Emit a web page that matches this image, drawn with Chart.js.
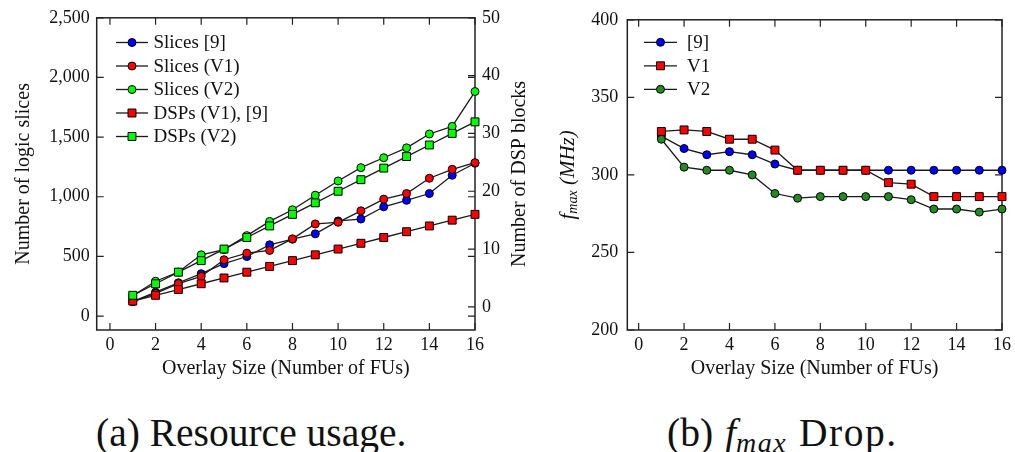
<!DOCTYPE html>
<html><head><meta charset="utf-8">
<script src="https://cdn.jsdelivr.net/npm/chart.js@4.4.1/dist/chart.umd.min.js"></script>
<style>
html,body{margin:0;padding:0;background:#fff;width:1015px;height:452px;overflow:hidden;font-family:'Liberation Serif';}
#c1{position:absolute;left:0;top:0;}
#c2{position:absolute;left:550px;top:0;}
.cap{position:absolute;top:414px;font-family:'Liberation Serif';font-size:39.5px;line-height:38px;color:#111;white-space:nowrap;}
.sub{font-size:28px;font-style:italic;position:relative;top:6px;letter-spacing:1.5px;}
.f{font-style:italic;margin-left:2px;}
.drop{margin-left:12px;letter-spacing:1.5px;}
</style></head><body>
<canvas id="c1" width="545" height="381"></canvas>
<canvas id="c2" width="465" height="381"></canvas>
<div class="cap" style="left:96px">(a) Resource usage.</div>
<div class="cap" style="left:667px">(b) <span class="f">f</span><span class="sub">max</span><span class="drop">Drop.</span></div>
<script>
// ---- data ----
const fus = [1,2,3,4,5,6,7,8,9,10,11,12,13,14,15,16];
const xTicks = [0,2,4,6,8,10,12,14,16];
const slicesRef = [121,200,279,355,439,499,597,644,689,797,813,916,970,1027,1180,1281];
const slicesV1  = [121,190,272,333,472,527,550,647,772,786,882,980,1027,1155,1230,1286];
const slicesV2  = [170,292,369,513,557,674,793,891,1013,1132,1244,1327,1410,1526,1590,1882];
const dspV1 = [1,2,3,4,5,6,7,8,9,10,11,12,13,14,15,16];
const dspV2 = [2,4,6,8,10,12,14,16,18,20,22,24,26,28,30,32];
const slicesTicks = [0,500,1000,1500,2000,2500];
const dspTicks = [0,10,20,30,40,50];
const fmaxTicks = [200,250,300,350,400];
const fmaxRef = [325,317,313,315,313,307,303,303,303,303,303,303,303,303,303,303];
const fmaxV1  = [328,329,328,323,323,316,303,303,303,303,295,294,286,286,286,286];
const fmaxV2  = [323,305,303,303,300,288,285,286,286,286,286,284,278,278,276,278];

const FONT = "'Liberation Serif'";
const TXT = '#111';
const pts = arr => arr.map((v, i) => ({x: fus[i], y: v}));

function ds(label, arr, color, style, axis, i) {
  return {
    label, data: pts(arr), yAxisID: axis, order: -i,
    borderColor: '#1a1a1a', borderWidth: 1.3, tension: 0,
    pointStyle: style, pointRadius: style === 'rect' ? 5.6 : 4, pointHoverRadius: style === 'rect' ? 5.6 : 4,
    pointBackgroundColor: color, pointBorderColor: '#000', pointBorderWidth: 1,
    clip: false
  };
}

const framePlugin = {
  id: 'frame',
  beforeDatasetsDraw(chart) {
    const {ctx, chartArea: a, scales} = chart;
    const L = 7;
    ctx.save();
    ctx.strokeStyle = '#222'; ctx.lineWidth = 1.2;
    ctx.beginPath();
    const xs = scales.x;
    xs.ticks.forEach(t => { const p = xs.getPixelForValue(t.value);
      ctx.moveTo(p, a.bottom); ctx.lineTo(p, a.bottom - L);
      ctx.moveTo(p, a.top); ctx.lineTo(p, a.top + L); });
    const y = scales.y;
    y.ticks.forEach(t => { const p = y.getPixelForValue(t.value);
      ctx.moveTo(a.left, p); ctx.lineTo(a.left + L, p);
      ctx.moveTo(a.right, p); ctx.lineTo(a.right - L, p); });
    if (scales.y2) {
      scales.y2.ticks.forEach(t => { const p = scales.y2.getPixelForValue(t.value);
        ctx.moveTo(a.right, p); ctx.lineTo(a.right - L, p); });
    }
    ctx.stroke();
    ctx.lineWidth = 1.5;
    ctx.strokeRect(a.left, a.top, a.right - a.left, a.bottom - a.top);
    ctx.restore();
  }
};

const legendPlugin = {
  id: 'mylegend',
  afterDraw(chart, args, o) {
    const {ctx} = chart;
    ctx.save();
    chart.data.datasets.forEach((d, i) => {
      const y = o.y0 + i * o.dy;
      ctx.strokeStyle = '#1a1a1a'; ctx.lineWidth = 1.3;
      ctx.beginPath(); ctx.moveTo(o.x1, y); ctx.lineTo(o.x2, y); ctx.stroke();
      ctx.fillStyle = d.pointBackgroundColor; ctx.strokeStyle = '#000'; ctx.lineWidth = 1;
      Chart.helpers.drawPoint(ctx, {pointStyle: d.pointStyle, rotation: 0, radius: d.pointRadius, borderWidth: 1}, (o.x1 + o.x2) / 2, y);
      ctx.fillStyle = TXT; ctx.font = '19px ' + FONT; ctx.textBaseline = 'middle'; ctx.textAlign = 'left';
      ctx.fillText(d.label, o.tx, y + 1);
    });
    ctx.restore();
  }
};

const vTitlePlugin = {
  id: 'vtitles',
  afterDraw(chart, args, o) {
    const {ctx, chartArea: a} = chart;
    (o.items || []).forEach(item => {
      ctx.save();
      ctx.translate(item.x, (a.top + a.bottom) / 2);
      ctx.rotate(-Math.PI / 2);
      ctx.textBaseline = 'middle'; ctx.textAlign = 'left'; ctx.fillStyle = TXT;
      let total = 0;
      item.parts.forEach(p => { ctx.font = p.font; total += ctx.measureText(p.text).width; });
      let cx = -total / 2;
      item.parts.forEach(p => { ctx.font = p.font; ctx.fillText(p.text, cx, p.dy || 0); cx += ctx.measureText(p.text).width; });
      ctx.restore();
    });
  }
};

const tickFont = {family: FONT, size: 18};
function setTicks(vals) { return s => { s.ticks = vals.map(v => ({value: v})); }; }
const xScale = (min, h) => ({
  type: 'linear', min, max: 16,
  afterBuildTicks: setTicks(xTicks),
  afterFit: s => { s.height = h; },
  grid: {display: false, drawTicks: false}, border: {display: false},
  ticks: {font: tickFont, color: TXT, padding: 4, maxRotation: 0},
  title: {display: true, text: 'Overlay Size (Number of FUs)', font: {family: FONT, size: 20}, color: TXT, padding: {top: 0, bottom: 0}}
});

const H = 381;
function build() {
Chart.defaults.font.family = FONT;
new Chart(document.getElementById('c1'), {
  type: 'line',
  data: {datasets: [
    ds('Slices [9]', slicesRef, '#0000ff', 'circle', 'y', 0),
    ds('Slices (V1)', slicesV1, '#ff0000', 'circle', 'y', 1),
    ds('Slices (V2)', slicesV2, '#00ff00', 'circle', 'y', 2),
    ds('DSPs (V1), [9]', dspV1, '#ff0000', 'rect', 'y2', 3),
    ds('DSPs (V2)', dspV2, '#00ff00', 'rect', 'y2', 4)
  ]},
  options: {
    responsive: false, animation: false, devicePixelRatio: 1,
    layout: {padding: {top: 15.7, left: 0, right: 0, bottom: 0}},
    scales: {
      x: xScale(-0.58, H - 330),
      y: {type: 'linear', position: 'left', min: -117, max: 2500,
        afterBuildTicks: setTicks(slicesTicks), afterFit: s => { s.width = 96.7; },
        grid: {display: false, drawTicks: false}, border: {display: false},
        ticks: {font: tickFont, color: TXT, padding: 7, callback: v => v.toLocaleString('en-US')}},
      y2: {type: 'linear', position: 'right', min: -4, max: 50,
        afterBuildTicks: setTicks(dspTicks), afterFit: s => { s.width = 545 - 475; },
        grid: {display: false, drawTicks: false}, border: {display: false},
        ticks: {font: tickFont, color: TXT, padding: 7}}
    },
    plugins: {
      legend: {display: false}, tooltip: {enabled: false},
      mylegend: {x1: 116, x2: 148, tx: 153.5, y0: 42.5, dy: 23.5},
      vtitles: {items: [
        {x: 24, parts: [{text: 'Number of logic slices', font: '20px ' + FONT}]},
        {x: 520, parts: [{text: 'Number of DSP blocks', font: '20px ' + FONT}]}
      ]}
    }
  },
  plugins: [framePlugin, legendPlugin, vTitlePlugin]
});

new Chart(document.getElementById('c2'), {
  type: 'line',
  data: {datasets: [
    ds('[9]', fmaxRef, '#0000ff', 'circle', 'y', 0),
    ds('V1', fmaxV1, '#ff0000', 'rect', 'y', 1),
    ds('V2', fmaxV2, '#228b22', 'circle', 'y', 2)
  ]},
  options: {
    responsive: false, animation: false, devicePixelRatio: 1,
    layout: {padding: {top: 15.7, left: 0, right: 465 - 453.3, bottom: 0}},
    scales: {
      x: xScale(-0.5, H - 330),
      y: {type: 'linear', position: 'left', min: 200, max: 400,
        afterBuildTicks: setTicks(fmaxTicks), afterFit: s => { s.width = 77.3; },
        grid: {display: false, drawTicks: false}, border: {display: false},
        ticks: {font: tickFont, color: TXT, padding: 9}}
    },
    plugins: {
      legend: {display: false}, tooltip: {enabled: false},
      mylegend: {x1: 94, x2: 127, tx: 137, y0: 42.3, dy: 23.5},
      vtitles: {items: [
        {x: 18, parts: [
          {text: 'f', font: 'italic 21px ' + FONT},
          {text: 'max', font: 'italic 14px ' + FONT, dy: 5},
          {text: ' (MHz)', font: 'italic 21px ' + FONT}
        ]}
      ]}
    }
  },
  plugins: [framePlugin, legendPlugin, vTitlePlugin]
});
}
Promise.all([
  document.fonts.load("18px 'Liberation Serif'"),
  document.fonts.load("italic 18px 'Liberation Serif'")
]).then(build, build);
</script>
</body></html>
